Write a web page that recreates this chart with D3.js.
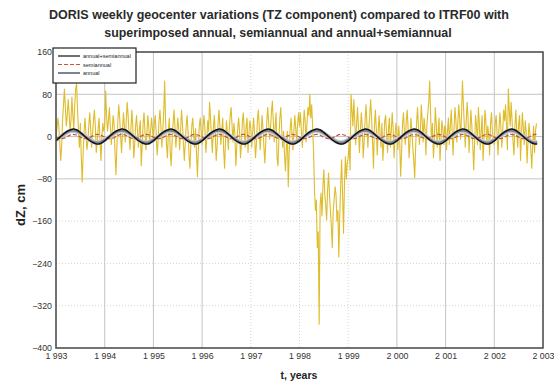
<!DOCTYPE html>
<html>
<head>
<meta charset="utf-8">
<script src="https://cdn.jsdelivr.net/npm/d3@7"></script>
<style>
  body { margin: 0; background: #fff; }
  svg { display: block; font-family: "Liberation Sans", Arial, sans-serif; }
</style>
</head>
<body>
<script>
// weekly TZ values (cm), one array per year
var dz1993 = [0, 15, 35, 20, -10, -45, -20, 30, 60, 90, 55, 20, 40, 70, 45, 10, 30, 75, 40, 15,
              60, 90, 100, 50, 10, -20, 25, -40, -86, -30, 10, 35, 5, -25, -10, 20, 45, 15, -20, 5,
              30, 50, 20, -30, -10, 15, 35, -10, -45, 0, 25, 10];
var dz1994 = [20, 86, 40, 10, 30, 55, 20, -15, 10, 40, 25, -30, -72, -20, 30, 60, 35, 0, -30, 10,
              45, 20, -10, 30, 65, 40, 5, -25, 15, 50, 20, -40, -15, 20, 40, 10, -20, 15, 30, -55,
              -20, 25, 45, 10, -25, 5, 40, 20, -15, 10, 35, 15];
var dz1995 = [-10, 25, 40, 5, -35, -10, 30, 50, 20, -20, 10, 45, 105, 30, -15, -40, 10, 35, -30, -55,
              -10, 25, 50, 20, -20, 5, 35, 15, -25, 10, 50, 25, -10, -45, -15, 20, 40, 10, -35, -60,
              -15, 20, 35, 5, -20, 15, -30, -76, -25, 20, 35, 10];
var dz1996 = [-15, 20, 40, 15, -30, -5, 30, 10, 65, 35, 0, -30, 15, 40, 10, -45, -20, 25, 50, 20,
              -15, 10, 35, -25, -60, -10, 30, 5, -25, 15, 40, 55, 20, -10, 25, 5, -55, -20, 15, 35,
              10, -40, -15, 30, 45, 10, -20, 20, 35, -30, 5, 30];
var dz1997 = [15, -20, 10, 35, 5, -40, -15, 30, 50, 20, -25, 5, 40, 15, -20, -50, -10, 25, 55, 30,
              -5, 15, 45, 67, 30, -10, 20, 45, -40, -55, -5, 35, 55, 15, -20, 10, -35, -65, -20, 10,
              -95, -30, 15, 35, 5, -25, 10, 40, 15, -10, 25, 45];
var dz1998 = [20, 45, 10, -20, 15, 50, 30, -10, 25, 55, 40, 80, 35, 60, 20, -30,
              -100, -140, -120, -210, -180, -355, -130, -107, -150, -95, -63, -110, -130, -158, -100, -69,
              -110, -140, -170, -210, -140, -120, -95, -110, -160, -140, -228, -150, -90, -44, -110, -183,
              -90, -38, -80, -50];
var dz1999 = [-40, -10, -63, 80, 50, 20, 70, 30, -15, 25, 55, 15, -30, 10, 45, 20, -40, -10, 30, 60,
              25, -20, 15, 40, 70, 35, -10, -60, 20, 50, 15, -35, 10, 40, 5, -20, 25, -45, -10, 30,
              40, 5, -30, 15, 35, -20, 10, 45, 15, -40, 0, 25];
var dz2000 = [10, -25, 20, -10, -75, -30, 25, 45, 10, -15, 30, 50, 15, -40, -10, 35, 10, -20, -45, -78,
              -20, 25, 55, 20, -15, 10, 60, 30, -10, 35, 15, -35, 20, 45, 65, 105, 40, -10, 25, -40,
              -5, 55, 25, -20, 10, 35, -45, -10, 30, 15, -15, 20];
var dz2001 = [15, -25, 10, 35, -15, 20, 50, 10, -35, 15, 55, 30, -10, 25, 60, 35, -5, 40, 105, 60,
              20, -20, 30, 65, 35, -30, 10, 50, 20, -15, -63, -10, 40, 20, -15, 55, 25, -25, 10, 40,
              -45, -5, 50, 30, -15, 20, 5, -35, 25, 45, 10, -10];
var dz2002 = [-15, 25, 40, 5, -35, 15, 45, 20, -20, 10, 50, 30, 60, 20, -25, 90, 50, 20, 65, 30,
              -10, -35, 20, 50, 10, -20, 25, 40, -45, 5, 45, 15, -15, 30, 10, -50, -10, 25, 5, -25,
              -60, -15, 20, -30, 10, 25];

var years = [1993, 1994, 1995, 1996, 1997, 1998, 1999, 2000, 2001, 2002];
var weekly = [dz1993, dz1994, dz1995, dz1996, dz1997, dz1998, dz1999, dz2000, dz2001, dz2002];

// fitted signals, monthly values over one year (cm)
var combinedCycle = [-8, -1, 6, 11, 14, 13, 8, 1, -6, -11, -14, -13];
var annualCycle   = [-6, -1, 4, 9, 11, 10, 6, 1, -4, -9, -11, -10];
var semiCycle     = [-1, -4, -3, 1, 4, 3, -1, -4, -3, 1, 4, 3];
var modelEnd = 2002.88;

var xTicks = [1993, 1994, 1995, 1996, 1997, 1998, 1999, 2000, 2001, 2002, 2003];
var yTicks = [160, 80, 0, -80, -160, -240, -320, -400];
var dottedX = [1997, 1998, 1999];
var dottedY = [-160, -240, -320];

var legendLabels = ['annual+semiannual', 'semiannual', 'annual'];

var width = 554, height = 387;
var plotL = 56, plotR = 543, plotT = 52, plotB = 348;

var svg = d3.select('body').append('svg')
  .attr('width', width)
  .attr('height', height);

var x = d3.scaleLinear().domain([1993, 2003]).range([plotL, plotR]);
var y = d3.scaleLinear().domain([-400, 160]).range([plotB, plotT]);

var locale = d3.formatLocale({decimal: '.', thousands: ' ', grouping: [3], currency: ['', '']});
var yearFmt = locale.format(',');

// title
svg.append('text')
  .attr('x', 279).attr('y', 19)
  .attr('text-anchor', 'middle')
  .attr('font-size', '12.5px').attr('font-weight', 'bold').attr('fill', '#2a2a2a')
  .text('DORIS weekly geocenter variations (TZ component) compared to ITRF00 with');
svg.append('text')
  .attr('x', 278).attr('y', 37)
  .attr('text-anchor', 'middle')
  .attr('font-size', '12.4px').attr('font-weight', 'bold').attr('fill', '#2a2a2a')
  .text('superimposed annual, semiannual and annual+semiannual');

// grid
svg.append('g').selectAll('line')
  .data(yTicks.filter(function(d) { return d !== 160 && d !== -400; }))
  .enter().append('line')
  .attr('x1', plotL).attr('x2', plotR)
  .attr('y1', function(d) { return y(d); })
  .attr('y2', function(d) { return y(d); })
  .attr('stroke', function(d) { return dottedY.indexOf(d) >= 0 ? '#d4d4d4' : '#c4c4c4'; })
  .attr('stroke-dasharray', function(d) { return dottedY.indexOf(d) >= 0 ? '1,2' : null; });

svg.append('g').selectAll('line')
  .data(xTicks.slice(1, -1))
  .enter().append('line')
  .attr('y1', plotT).attr('y2', plotB)
  .attr('x1', function(d) { return x(d); })
  .attr('x2', function(d) { return x(d); })
  .attr('stroke', function(d) { return dottedX.indexOf(d) >= 0 ? '#d4d4d4' : '#c4c4c4'; })
  .attr('stroke-dasharray', function(d) { return dottedX.indexOf(d) >= 0 ? '1,2' : null; });

// data
var points = [];
weekly.forEach(function(arr, i) {
  arr.forEach(function(v, w) { points.push({t: years[i] + w / 52, v: v}); });
});

function cycleSeries(cycle) {
  var out = [];
  years.forEach(function(yr) {
    cycle.forEach(function(v, m) { out.push({t: yr + m / 12, v: v}); });
  });
  out.push({t: 2003, v: cycle[0]});
  return out;
}

svg.append('clipPath').attr('id', 'plot')
  .append('rect').attr('x', plotL).attr('y', plotT).attr('width', plotR - plotL).attr('height', plotB - plotT);
svg.append('clipPath').attr('id', 'model')
  .append('rect').attr('x', plotL).attr('y', plotT).attr('width', x(modelEnd) - plotL).attr('height', plotB - plotT);

var plot = svg.append('g').attr('clip-path', 'url(#plot)');
var model = svg.append('g').attr('clip-path', 'url(#model)');

var line = d3.line()
  .x(function(d) { return x(d.t); })
  .y(function(d) { return y(d.v); });

var smooth = d3.line()
  .curve(d3.curveCatmullRom)
  .x(function(d) { return x(d.t); })
  .y(function(d) { return y(d.v); });

plot.append('path')
  .datum(points)
  .attr('d', line)
  .attr('fill', 'none')
  .attr('stroke', '#dfbc2a')
  .attr('stroke-width', 1.1)
  .attr('stroke-linejoin', 'round');

var annual = cycleSeries(annualCycle);
model.append('path').datum(annual).attr('d', smooth)
  .attr('fill', 'none').attr('stroke', '#c9cdd6').attr('stroke-width', 4.5);
model.append('path').datum(annual).attr('d', smooth)
  .attr('fill', 'none').attr('stroke', '#7d838f').attr('stroke-width', 2);

model.append('path').datum(cycleSeries(semiCycle)).attr('d', smooth)
  .attr('fill', 'none').attr('stroke', '#c0583e').attr('stroke-width', 1.2)
  .attr('stroke-dasharray', '4,2');

model.append('path').datum(cycleSeries(combinedCycle)).attr('d', smooth)
  .attr('fill', 'none').attr('stroke', '#111').attr('stroke-width', 1.5);

// frame
svg.append('rect')
  .attr('x', plotL).attr('y', plotT)
  .attr('width', plotR - plotL).attr('height', plotB - plotT)
  .attr('fill', 'none').attr('stroke', '#444').attr('stroke-width', 1.5);

// axes
var yAxis = svg.append('g')
  .attr('transform', 'translate(' + plotL + ',0)')
  .call(d3.axisLeft(y).tickValues(yTicks).tickSize(0).tickPadding(4));
var xAxis = svg.append('g')
  .attr('transform', 'translate(0,' + plotB + ')')
  .call(d3.axisBottom(x).tickValues(xTicks).tickSize(0).tickPadding(5).tickFormat(yearFmt));
[yAxis, xAxis].forEach(function(g) {
  g.select('.domain').remove();
  g.selectAll('text')
    .attr('font-family', '"Liberation Sans", Arial, sans-serif')
    .attr('font-size', '8.8px').attr('fill', '#333');
});

svg.append('text')
  .attr('x', 299).attr('y', 379)
  .attr('text-anchor', 'middle')
  .attr('font-size', '10.5px').attr('font-weight', 'bold').attr('fill', '#222')
  .text('t, years');

svg.append('text')
  .attr('transform', 'translate(25,205) rotate(-90)')
  .attr('text-anchor', 'middle')
  .attr('font-size', '13px').attr('font-weight', 'bold').attr('fill', '#222')
  .text('dZ, cm');

// legend
var legend = svg.append('g');
legend.append('rect')
  .attr('x', 53).attr('y', 48).attr('width', 83).attr('height', 35)
  .attr('fill', '#fff').attr('stroke', '#222').attr('stroke-width', 1.2);

var legendStyles = [
  {stroke: '#111', width: 1.2, dash: null},
  {stroke: '#c0583e', width: 1.2, dash: '4,2'},
  {stroke: '#7d838f', width: 2, dash: null}
];
var items = legend.selectAll('g.item')
  .data(legendLabels)
  .enter().append('g')
  .attr('class', 'item')
  .attr('transform', function(d, i) { return 'translate(0,' + (56 + i * 8.5) + ')'; });
items.append('line')
  .attr('x1', 58).attr('x2', 80)
  .attr('stroke', function(d, i) { return legendStyles[i].stroke; })
  .attr('stroke-width', function(d, i) { return legendStyles[i].width; })
  .attr('stroke-dasharray', function(d, i) { return legendStyles[i].dash; });
items.append('text')
  .attr('x', 83).attr('y', 2)
  .attr('font-size', '5.5px').attr('fill', '#222')
  .text(function(d) { return d; });
</script>
</body>
</html>
